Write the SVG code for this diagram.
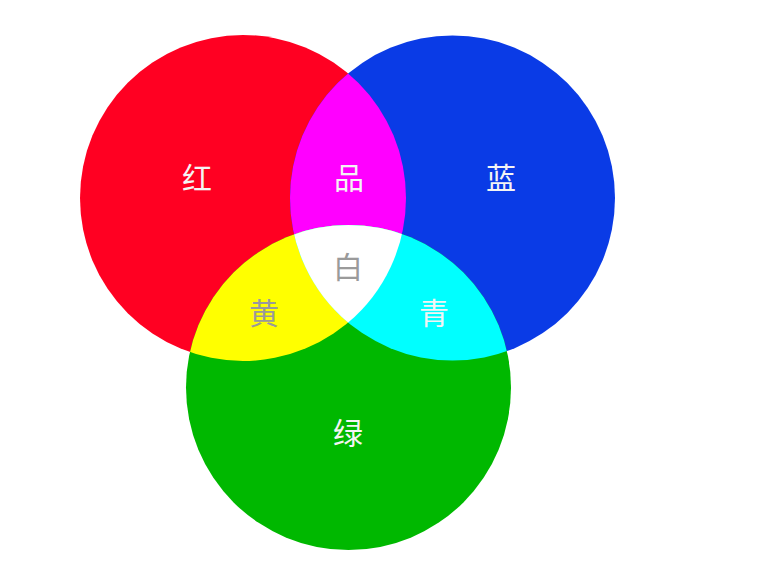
<svg xmlns="http://www.w3.org/2000/svg" width="769" height="587" viewBox="0 0 769 587">
  <style>
    text { font-family: "Noto Sans CJK SC", "Noto Sans", sans-serif; font-size: 30px; text-anchor: middle; dominant-baseline: central; }
    .light { fill: #f4f4f4; }
    .dark { fill: #9a9a9a; }
  </style>
  <defs>
    <clipPath id="cRed"><circle cx="243" cy="198" r="163"/></clipPath>
    <clipPath id="cBlue"><circle cx="452.5" cy="198" r="162.5"/></clipPath>
    <clipPath id="cRedBlue" clip-path="url(#cRed)"><circle cx="452.5" cy="198" r="162.5"/></clipPath>
  </defs>
  <rect width="769" height="587" fill="#ffffff"/>
  <g id="red">
    <circle cx="243" cy="198" r="163" fill="#ff0022"/>
    <text class="light" x="197" y="176">红</text>
  </g>
  <g id="blue">
    <circle cx="452.5" cy="198" r="162.5" fill="#0a3be6"/>
    <text class="light" x="501" y="176">蓝</text>
  </g>
  <g id="green">
    <circle cx="348.5" cy="387.5" r="162.5" fill="#00b800"/>
    <text class="light" x="348" y="431">绿</text>
  </g>
  <g id="magenta">
    <circle cx="452.5" cy="198" r="162.5" fill="#ff00ff" clip-path="url(#cRed)"/>
    <text class="light" x="349" y="176">品</text>
  </g>
  <g id="yellow">
    <circle cx="348.5" cy="387.5" r="162.5" fill="#ffff00" clip-path="url(#cRed)"/>
    <text class="dark" x="264" y="311">黄</text>
  </g>
  <g id="cyan">
    <circle cx="348.5" cy="387.5" r="162.5" fill="#00ffff" clip-path="url(#cBlue)"/>
    <text class="light" x="434" y="311">青</text>
  </g>
  <g id="white">
    <circle cx="348.5" cy="387.5" r="162.5" fill="#ffffff" clip-path="url(#cRedBlue)"/>
    <text class="dark" x="348" y="265">白</text>
  </g>
  <g id="connectors"/>
</svg>
